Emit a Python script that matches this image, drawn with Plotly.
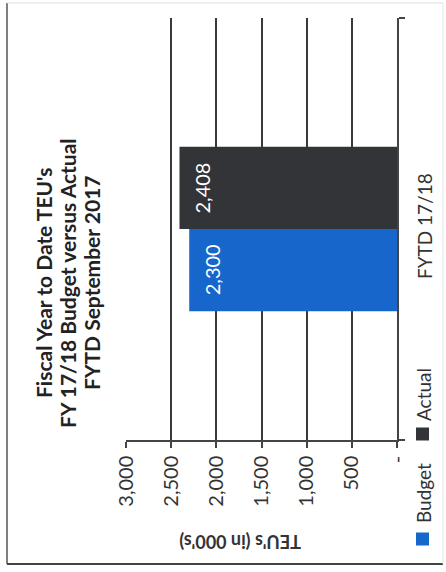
import plotly.graph_objects as go

categories = ["FYTD 17/18"]
series_names = ["Budget", "Actual"]
budget_values = [2300]
actual_values = [2408]
tick_values = [0, 500, 1000, 1500, 2000, 2500, 3000]
tick_labels = ["-", "500", "1,000", "1,500", "2,000", "2,500", "3,000"]
title_lines = ["Fiscal Year to Date TEU's", "FY 17/18 Budget versus Actual", "FYTD September 2017"]
axis_title = "TEU's (in 000's)"
colors = {"Budget": "#1766cc", "Actual": "#323437"}

W, H = 446, 572
L, R, T, B = 126, 49, 18, 132
PW, PH = W - L - R, H - T - B


def px(x):
    return (x - L) / PW


def py(y):
    return (H - B - y) / PH


FONT = "Lato"

fig = go.Figure()
for name, vals in [("Budget", budget_values), ("Actual", actual_values)]:
    fig.add_trace(go.Bar(
        y=categories, x=vals, name=name, orientation="h",
        marker=dict(color=colors[name], line=dict(width=0)),
        showlegend=False, hoverinfo="x+name",
    ))

# value labels inside bar ends
for name, vals, ys in [("Budget", budget_values, -41), ("Actual", actual_values, 41)]:
    for c, v in zip(categories, vals):
        fig.add_annotation(
            x=v, y=c, xref="x", yref="y", text=f"{v:,}", textangle=-90,
            showarrow=False, xshift=23, yshift=ys,
            font=dict(color="white", size=20, family=FONT),
            xanchor="center", yanchor="middle",
        )

fig.update_layout(
    width=W, height=H,
    margin=dict(l=L, r=R, t=T, b=B, autoexpand=False),
    paper_bgcolor="white", plot_bgcolor="white",
    barmode="group", bargap=0.61, bargroupgap=0,
    font=dict(family=FONT, color="#222"),
)

fig.update_xaxes(
    range=[3000, 0], tickvals=tick_values, ticktext=tick_labels,
    tickangle=-90, tickfont=dict(size=20, family=FONT, color="#333"),
    showgrid=True, gridcolor="#3a3a3a", gridwidth=1.5,
    showline=True, linecolor="#444", linewidth=1.5,
    ticks="outside", ticklen=6, tickcolor="#444", tickwidth=1.5,
    zeroline=False, automargin=False,
)
fig.update_yaxes(
    side="right", tickangle=-90, tickfont=dict(size=19, family=FONT, color="#333"),
    showline=True, linecolor="#444", linewidth=1.5,
    ticks="outside", tickson="boundaries", ticklen=6, tickcolor="#444", tickwidth=1.5,
    ticklabelstandoff=10, showgrid=False, automargin=False,
)

# title (rotated), one annotation per line
for line, xc in zip(title_lines, [43, 67, 91]):
    fig.add_annotation(
        x=px(xc), y=py(283), xref="paper", yref="paper",
        text="<b>" + line + "</b>", textangle=-90,
        showarrow=False, font=dict(size=21, family=FONT, color="#222"),
        xanchor="center", yanchor="middle", align="center",
    )
# value-axis title (upside down)
fig.add_annotation(
    x=px(240), y=py(542), xref="paper", yref="paper",
    text="<b>" + axis_title + "</b>", textangle=180,
    showarrow=False, font=dict(size=18, family=FONT, color="#333"),
    xanchor="center", yanchor="middle",
)

# legend (rotated)
legend_items = [("Budget", 493, 539), ("Actual", 395, 434)]
for name, ty, sy in legend_items:
    fig.add_annotation(
        x=px(423), y=py(ty), xref="paper", yref="paper",
        text=name, textangle=-90, showarrow=False,
        font=dict(size=19, family=FONT, color="#333"),
        xanchor="center", yanchor="middle",
    )
    fig.add_shape(
        type="rect", xref="paper", yref="paper",
        x0=px(416), x1=px(429), y0=py(sy - 6.5), y1=py(sy + 6.5),
        fillcolor=colors[name], line=dict(width=0),
    )

# frame
frame = [
    (7, 3, 7, 564, "#555", 1.5),
    (7, 564, 443, 564, "#444", 2),
    (7, 3, 443, 3, "#ddd", 1),
    (443, 3, 443, 564, "#e2e2e2", 1),
]
for x0, y0, x1, y1, c, w in frame:
    fig.add_shape(type="line", xref="paper", yref="paper",
                  x0=px(x0), y0=py(y0), x1=px(x1), y1=py(y1),
                  line=dict(color=c, width=w))

fig.write_html(
    "out.html",
    config={"displayModeBar": False},
    post_script="document.body.style.margin='0';document.body.style.overflow='hidden';",
)
